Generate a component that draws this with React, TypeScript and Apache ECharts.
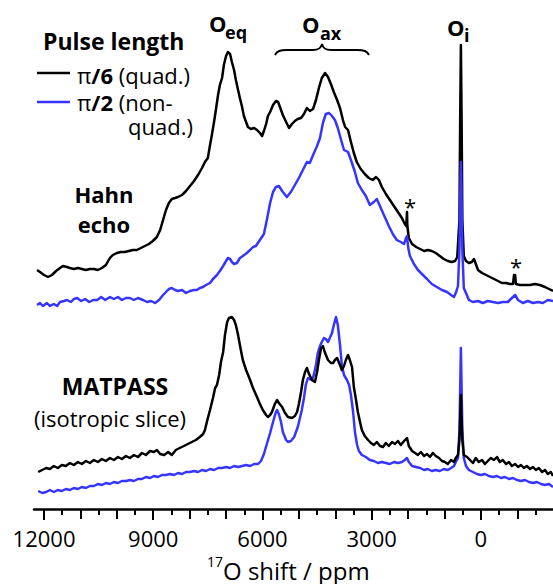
import React, { useEffect, useRef } from "react";
import * as echarts from "echarts";

// 17O shift (ppm) vs intensity (a.u., traces already vertically offset)
const hahnQuad: [number, number][] = [
  [12192, 239], [12110, 237], [12000, 234], [11890, 232], [11780, 234], [11670, 238], [11560, 241], [11480, 243],
  [11370, 242], [11290, 241], [11180, 240], [11070, 241], [10960, 240], [10850, 239], [10740, 240], [10630, 240],
  [10520, 239], [10410, 241], [10300, 244], [10190, 251], [10110, 254], [10000, 256], [9890, 257], [9780, 257],
  [9670, 258], [9560, 259], [9450, 259], [9340, 261], [9230, 263], [9120, 265], [9010, 268], [8900, 272],
  [8810, 279], [8730, 289], [8650, 299], [8570, 306], [8490, 310], [8400, 311], [8320, 312], [8210, 314],
  [8100, 318], [7990, 323], [7880, 328], [7770, 334], [7660, 341], [7580, 347], [7500, 351], [7440, 364],
  [7390, 374], [7330, 387], [7280, 399], [7220, 414], [7170, 424], [7110, 431], [7060, 444], [7000, 453],
  [6950, 457], [6890, 455], [6840, 447], [6780, 439], [6730, 429], [6670, 419], [6620, 411], [6560, 402],
  [6510, 393], [6450, 387], [6400, 382], [6320, 380], [6230, 381], [6150, 379], [6070, 376], [6010, 373],
  [5960, 378], [5900, 385], [5850, 393], [5790, 397], [5710, 404], [5630, 408], [5570, 407], [5520, 402],
  [5440, 394], [5350, 387], [5270, 381], [5190, 385], [5110, 388], [5030, 390], [4940, 391], [4860, 395],
  [4780, 401], [4700, 398], [4610, 400], [4530, 409], [4450, 421], [4370, 431], [4280, 436], [4200, 432],
  [4120, 425], [4040, 417], [3950, 409], [3870, 401], [3790, 389], [3730, 382], [3650, 379], [3570, 367],
  [3490, 356], [3410, 347], [3300, 340], [3190, 335], [3080, 331], [2970, 329], [2880, 332], [2800, 329],
  [2720, 322], [2610, 315], [2500, 309], [2390, 303], [2280, 297], [2170, 291], [2090, 285], [2050, 283],
  [2030, 297], [2020, 283], [1980, 271], [1890, 265], [1780, 262], [1670, 260], [1560, 258], [1460, 259],
  [1350, 258], [1240, 256], [1130, 253], [1020, 250], [910, 248], [800, 247], [710, 248], [650, 252],
  [590, 289], [570, 389], [550, 464], [530, 389], [510, 289], [470, 253], [410, 248], [330, 246],
  [250, 247], [190, 250], [140, 245], [80, 239], [-30, 236], [-140, 234], [-250, 232], [-360, 230],
  [-470, 228], [-580, 226], [-690, 226], [-800, 225], [-880, 225], [-910, 234], [-940, 234], [-960, 225],
  [-1070, 224], [-1210, 224], [-1350, 224], [-1480, 225], [-1620, 224], [-1760, 222], [-1870, 220], [-1980, 218],
];

const hahnNonQuad: [number, number][] = [
  [12192, 204], [12110, 206], [12030, 203], [11920, 206], [11840, 203], [11730, 205], [11640, 203], [11560, 207],
  [11450, 208], [11370, 209], [11260, 207], [11180, 210], [11090, 211], [10980, 208], [10870, 210], [10760, 207],
  [10650, 209], [10540, 209], [10430, 212], [10320, 209], [10190, 212], [10080, 210], [9970, 212], [9860, 209],
  [9750, 211], [9640, 211], [9530, 209], [9420, 211], [9280, 209], [9170, 207], [9060, 208], [8950, 206],
  [8840, 209], [8730, 214], [8650, 217], [8570, 220], [8490, 221], [8400, 219], [8320, 218], [8210, 219],
  [8100, 216], [7990, 218], [7880, 219], [7800, 219], [7720, 221], [7630, 222], [7550, 224], [7440, 226],
  [7360, 230], [7250, 234], [7170, 238], [7080, 243], [7000, 248], [6950, 251], [6890, 250], [6840, 247],
  [6780, 245], [6700, 246], [6620, 251], [6540, 253], [6430, 256], [6340, 259], [6260, 262], [6180, 263],
  [6070, 269], [5960, 275], [5880, 289], [5790, 306], [5710, 317], [5630, 322], [5550, 323], [5440, 317],
  [5330, 312], [5220, 317], [5110, 324], [5000, 331], [4890, 339], [4780, 347], [4700, 346], [4610, 354],
  [4500, 363], [4420, 371], [4340, 386], [4260, 395], [4170, 396], [4090, 393], [4010, 389], [3930, 381],
  [3840, 369], [3760, 359], [3650, 357], [3570, 349], [3460, 337], [3380, 326], [3270, 319], [3160, 313],
  [3050, 304], [2940, 307], [2860, 310], [2750, 301], [2640, 292], [2530, 283], [2420, 275], [2310, 269],
  [2200, 267], [2110, 265], [2060, 271], [2030, 273], [2000, 262], [1950, 253], [1840, 245], [1730, 239],
  [1620, 235], [1480, 230], [1350, 225], [1210, 222], [1070, 219], [930, 217], [820, 214], [740, 212],
  [690, 216], [630, 223], [590, 259], [570, 309], [550, 347], [530, 309], [510, 259], [470, 221],
  [410, 216], [330, 209], [220, 207], [80, 208], [-50, 206], [-190, 208], [-330, 207], [-470, 206],
  [-600, 207], [-740, 207], [-850, 211], [-940, 214], [-1020, 209], [-1150, 206], [-1290, 208], [-1430, 206],
  [-1570, 207], [-1700, 206], [-1840, 209], [-1980, 208],
];

const matpassQuad: [number, number][] = [
  [12160, 37], [12050, 39], [11940, 41], [11840, 40], [11730, 43], [11620, 41], [11510, 44], [11400, 43],
  [11290, 46], [11180, 44], [11070, 47], [10960, 45], [10850, 48], [10740, 46], [10630, 49], [10520, 47],
  [10410, 50], [10300, 48], [10190, 51], [10080, 49], [9970, 52], [9860, 50], [9750, 53], [9640, 51],
  [9530, 54], [9420, 52], [9310, 56], [9200, 54], [9090, 58], [8980, 57], [8900, 59], [8810, 55],
  [8700, 54], [8590, 57], [8490, 54], [8380, 59], [8270, 61], [8160, 63], [8050, 65], [7940, 67],
  [7830, 69], [7720, 72], [7630, 75], [7580, 79], [7500, 91], [7440, 99], [7360, 111], [7300, 121],
  [7250, 124], [7190, 134], [7140, 147], [7080, 157], [7030, 174], [6970, 187], [6920, 191], [6840, 192],
  [6780, 189], [6730, 184], [6670, 174], [6620, 164], [6540, 149], [6450, 139], [6340, 129], [6260, 121],
  [6150, 112], [6070, 105], [5990, 99], [5900, 94], [5850, 92], [5790, 94], [5740, 97], [5660, 105],
  [5600, 109], [5550, 106], [5460, 102], [5380, 96], [5300, 92], [5190, 91], [5110, 93], [5050, 97],
  [5000, 105], [4940, 117], [4890, 129], [4830, 137], [4780, 141], [4720, 135], [4640, 129], [4560, 127],
  [4500, 137], [4450, 149], [4390, 161], [4340, 163], [4280, 156], [4200, 149], [4120, 146], [4060, 146],
  [4010, 149], [3950, 151], [3870, 144], [3820, 139], [3760, 143], [3710, 149], [3650, 154], [3600, 149],
  [3540, 142], [3490, 122], [3430, 109], [3380, 97], [3320, 87], [3270, 79], [3190, 73], [3100, 69],
  [3020, 66], [2940, 64], [2860, 67], [2770, 63], [2690, 62], [2610, 66], [2530, 63], [2440, 67],
  [2360, 65], [2280, 68], [2200, 64], [2110, 68], [2030, 71], [1980, 63], [1890, 58], [1810, 56],
  [1730, 54], [1650, 57], [1560, 53], [1480, 55], [1400, 52], [1320, 56], [1240, 53], [1150, 51],
  [1070, 48], [990, 47], [910, 45], [820, 49], [740, 47], [690, 51], [630, 54], [590, 69],
  [570, 89], [550, 114], [530, 89], [510, 69], [470, 54], [380, 52], [300, 49], [220, 46],
  [140, 51], [60, 47], [-30, 49], [-110, 45], [-190, 48], [-270, 51], [-360, 49], [-440, 52],
  [-520, 47], [-600, 49], [-690, 45], [-770, 47], [-850, 43], [-940, 45], [-1020, 42], [-1100, 44],
  [-1180, 41], [-1260, 43], [-1350, 40], [-1430, 42], [-1510, 39], [-1590, 41], [-1680, 37], [-1760, 39],
  [-1840, 35], [-1920, 37], [-1980, 33],
];

const matpassNonQuad: [number, number][] = [
  [12160, 18], [12050, 16], [11940, 17], [11840, 19], [11730, 17], [11620, 19], [11510, 18], [11400, 20],
  [11290, 19], [11180, 21], [11070, 20], [10960, 22], [10850, 21], [10740, 23], [10630, 23], [10520, 25],
  [10410, 24], [10300, 26], [10190, 25], [10080, 27], [9970, 26], [9860, 28], [9750, 28], [9640, 29],
  [9530, 28], [9420, 30], [9310, 30], [9200, 32], [9090, 31], [8980, 33], [8870, 32], [8760, 34],
  [8650, 34], [8540, 35], [8430, 34], [8320, 36], [8210, 35], [8100, 37], [7990, 37], [7880, 38],
  [7770, 37], [7660, 39], [7550, 38], [7440, 40], [7330, 39], [7220, 41], [7110, 41], [7000, 42],
  [6890, 41], [6780, 43], [6670, 42], [6560, 43], [6450, 44], [6340, 43], [6230, 45], [6120, 45],
  [6040, 48], [5960, 55], [5880, 65], [5790, 76], [5710, 87], [5630, 97], [5600, 99], [5550, 95],
  [5490, 87], [5440, 77], [5350, 69], [5300, 67], [5220, 68], [5130, 72], [5080, 77], [5030, 82],
  [4970, 91], [4920, 99], [4860, 111], [4810, 124], [4750, 131], [4700, 130], [4640, 129], [4590, 134],
  [4530, 144], [4480, 156], [4420, 163], [4370, 167], [4310, 171], [4260, 170], [4200, 167], [4150, 171],
  [4090, 176], [4040, 184], [3980, 192], [3930, 184], [3870, 164], [3820, 144], [3760, 134], [3680, 129],
  [3620, 124], [3570, 114], [3510, 97], [3460, 77], [3400, 64], [3350, 58], [3270, 54], [3160, 52],
  [3050, 49], [2940, 48], [2830, 46], [2720, 47], [2610, 46], [2500, 45], [2390, 47], [2280, 46],
  [2170, 47], [2090, 49], [2030, 51], [1980, 47], [1890, 43], [1780, 42], [1670, 41], [1560, 39],
  [1460, 40], [1350, 38], [1240, 39], [1130, 38], [1020, 40], [910, 39], [820, 41], [740, 43],
  [690, 47], [630, 51], [590, 79], [570, 119], [550, 161], [530, 119], [510, 79], [470, 51],
  [410, 43], [330, 39], [220, 37], [110, 35], [0, 34], [-110, 35], [-220, 33], [-330, 32],
  [-440, 33], [-550, 31], [-660, 32], [-770, 30], [-880, 31], [-990, 29], [-1100, 28], [-1210, 29],
  [-1320, 27], [-1430, 26], [-1540, 27], [-1650, 25], [-1760, 24], [-1870, 25], [-1980, 22],
];

const labelTicks = [12000, 9000, 6000, 3000, 0];
const thousandTicks = [11000, 10000, 8000, 7000, 5000, 4000, 2000, 1000, -1000];
const halfTicks = [11500, 10500, 9500, 8500, 7500, 6500, 5500, 4500, 3500, 2500, 1500, 500, -500, -1500];

const X_MIN = -1980;
const X_MAX = 12275;
const BLUE = "#3535ff";
const FONT = '"Open Sans", "Noto Sans", sans-serif';

const BRACE = "M0,11 C2,7 5,6 12,6 L38,6 C44,6 46,4 47,0 C48,4 50,6 56,6 L82,6 C89,6 92,7 94,11";
echarts.graphic.registerShape("brace", echarts.graphic.extendPath(BRACE, {}));

function txt(x: number, y: number, text: string, size: number, bold: boolean, align = "left", color = "#000") {
  return {
    type: "text",
    x,
    y,
    z: 100,
    style: {
      text,
      font: `${bold ? "bold " : ""}${size}px ${FONT}`,
      lineHeight: size,
      fill: color,
      textAlign: align,
      textVerticalAlign: "middle",
      align,
      verticalAlign: "middle",
    },
  };
}

function xAxisBase(extra: any) {
  return {
    type: "value",
    min: X_MIN,
    max: X_MAX,
    inverse: true,
    position: "bottom",
    splitLine: { show: false },
    ...extra,
  };
}

export default function App() {
  const ref = useRef<HTMLDivElement>(null);
  useEffect(() => {
    if (!ref.current) return;
    const chart = echarts.init(ref.current, null, { renderer: "svg" });
    const line = (data: [number, number][], color: string, z: number) => ({
      type: "line",
      data,
      xAxisIndex: 0,
      yAxisIndex: 0,
      symbol: "none",
      showSymbol: false,
      z,
      lineStyle: { color, width: 2.5, join: "round" },
      silent: true,
    });
    const richLegend = {
      r: { font: `22px ${FONT}`, fill: "#000", lineHeight: 22 },
      b: { font: `bold 22px ${FONT}`, fill: "#000", lineHeight: 22 },
    };
    chart.setOption({
      animation: false,
      backgroundColor: "#fff",
      grid: { left: 34, right: 0, top: 0, bottom: 75, containLabel: false },
      xAxis: [
        xAxisBase({
          axisLine: { show: true, lineStyle: { color: "#000", width: 2.5 } },
          axisTick: { show: true, length: 11, lineStyle: { color: "#000", width: 2 }, customValues: labelTicks },
          axisLabel: {
            show: true,
            customValues: labelTicks,
            color: "#000",
            fontSize: 22,
            fontFamily: FONT,
            margin: 18,
            formatter: (v: number) => String(v),
          },
        }),
        xAxisBase({
          axisLine: { show: false },
          axisTick: { show: true, length: 10, lineStyle: { color: "#000", width: 2 }, customValues: thousandTicks },
          axisLabel: { show: false },
        }),
        xAxisBase({
          axisLine: { show: false },
          axisTick: { show: true, length: 6, lineStyle: { color: "#000", width: 2 }, customValues: halfTicks },
          axisLabel: { show: false },
        }),
      ],
      yAxis: { type: "value", min: 0, max: 509, show: false },
      series: [
        line(hahnQuad, "#000", 2),
        line(hahnNonQuad, BLUE, 3),
        line(matpassNonQuad, BLUE, 2),
        line(matpassQuad, "#000", 3),
      ],
      graphic: [
        txt(209, 23, "O", 22, true),
        txt(225, 32, "eq", 18, true),
        txt(302, 24, "O", 22, true),
        txt(320, 33, "ax", 18, true),
        txt(447, 27, "O", 22, true),
        txt(464, 35, "i", 18, true),
        { type: "brace", x: 275, y: 44, z: 100, style: { stroke: "#000", fill: "none", lineWidth: 2 } },
        txt(43, 41, "Pulse length", 23, true),
        { type: "line", z: 100, shape: { x1: 37, y1: 73, x2: 70, y2: 73 }, style: { stroke: "#000", lineWidth: 2.5 } },
        { type: "line", z: 100, shape: { x1: 37, y1: 102, x2: 70, y2: 102 }, style: { stroke: BLUE, lineWidth: 2.5 } },
        {
          type: "text",
          x: 77,
          y: 75,
          z: 100,
          style: {
            text: "{r|π}{b|/6}{r| (quad.)}",
            textVerticalAlign: "middle",
            verticalAlign: "middle",
            rich: richLegend,
          },
        },
        {
          type: "text",
          x: 77,
          y: 102,
          z: 100,
          style: {
            text: "{r|π}{b|/2}{r| (non-}",
            textVerticalAlign: "middle",
            verticalAlign: "middle",
            rich: richLegend,
          },
        },
        txt(193, 126, "quad.)", 22, false, "right"),
        txt(104, 194, "Hahn", 22, true, "center"),
        txt(104, 224, "echo", 22, true, "center"),
        txt(115, 386, "MATPASS", 23, true, "center"),
        txt(110, 418, "(isotropic slice)", 22, false, "center"),
        txt(410, 206, "*", 22, false, "center"),
        txt(516, 266, "*", 22, false, "center"),
        txt(223, 570, "O shift / ppm", 24, false, "left"),
        txt(223, 561, "17", 14, false, "right"),
      ],
    });
    return () => chart.dispose();
  }, []);
  return <div ref={ref} style={{ position: "fixed", left: 0, top: 0, width: 553, height: 584 }} />;
}
